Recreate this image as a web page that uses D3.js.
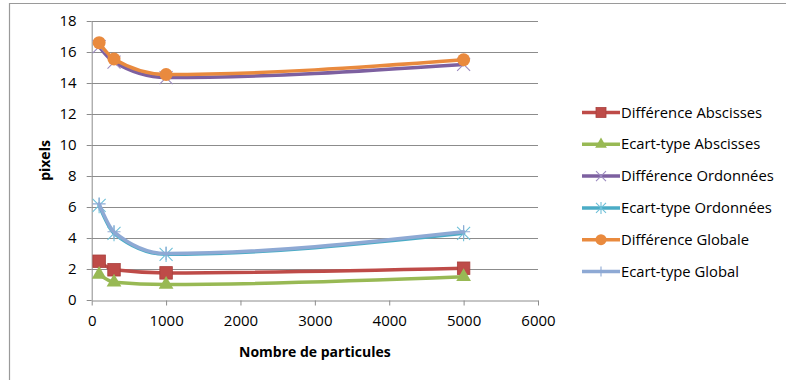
<!DOCTYPE html>
<html>
<head>
<meta charset="utf-8">
<script src="https://cdn.jsdelivr.net/npm/d3@7"></script>
<style>
  html, body { margin: 0; padding: 0; background: #fff; }
  svg { display: block; font-family: "Open Sans", "Noto Sans", sans-serif; }
</style>
</head>
<body>
<svg id="chart" width="786" height="380"></svg>
<script>
// Number of particles (x axis)
const particles = [100, 300, 1000, 5000];

// Series values (pixels)
const diffAbscisses = [2.5, 1.95, 1.75, 2.05];
const ecartAbscisses = [1.65, 1.15, 1.0, 1.5];
const diffOrdonnees = [16.35, 15.35, 14.35, 15.2];
const ecartOrdonnees = [6.1, 4.3, 2.95, 4.3];
const diffGlobale = [16.6, 15.55, 14.55, 15.5];
const ecartGlobal = [6.2, 4.4, 3.0, 4.4];

const seriesNames = [
  "Différence Abscisses",
  "Ecart-type Abscisses",
  "Différence Ordonnées",
  "Ecart-type Ordonnées",
  "Différence Globale",
  "Ecart-type Global"
];

const xTicks = [0, 1000, 2000, 3000, 4000, 5000, 6000];
const yTicks = [0, 2, 4, 6, 8, 10, 12, 14, 16, 18];

const xTitle = "Nombre de particules";
const yTitle = "pixels";

const series = [
  { name: seriesNames[0], values: diffAbscisses, color: "#BE4B48", mark: "square", markColor: "#BE4B48" },
  { name: seriesNames[1], values: ecartAbscisses, color: "#98B954", mark: "triangle", markColor: "#98B954" },
  { name: seriesNames[2], values: diffOrdonnees, color: "#7D60A0", mark: "x", markColor: "#9C8BC0" },
  { name: seriesNames[3], values: ecartOrdonnees, color: "#4BACC6", mark: "star", markColor: "#6FC0D8" },
  { name: seriesNames[4], values: diffGlobale, color: "#E98A3E", mark: "circle", markColor: "#E98A3E" },
  { name: seriesNames[5], values: ecartGlobal, color: "#8EA9D4", mark: "plus", markColor: "#8EA9D4" }
];

const svg = d3.select("#chart");

// chart frame
svg.append("path")
  .attr("d", "M9.5,380 V3.5 H786")
  .attr("fill", "none")
  .attr("stroke", "#9a9a9a")
  .attr("stroke-width", 1.2);

const x = d3.scaleLinear().domain([0, 6000]).range([91.7, 538]);
const y = d3.scaleLinear().domain([0, 18]).range([300, 21]);

// horizontal gridlines
svg.append("g")
  .selectAll("line")
  .data(yTicks.filter(d => d > 0))
  .join("line")
  .attr("x1", x(0)).attr("x2", x(6000))
  .attr("y1", d => Math.round(y(d)) + 0.5).attr("y2", d => Math.round(y(d)) + 0.5)
  .attr("stroke", "#8c8c8c")
  .attr("stroke-width", 1);

// axes
const yAxis = svg.append("g")
  .attr("transform", `translate(${x(0)},0)`)
  .call(d3.axisLeft(y).tickValues(yTicks).tickSize(5).tickPadding(10).tickSizeOuter(0));
const xAxis = svg.append("g")
  .attr("transform", `translate(0,${Math.round(y(0)) + 0.5})`)
  .call(d3.axisBottom(x).tickValues(xTicks).tickSize(5).tickPadding(10).tickSizeOuter(0).tickFormat(d3.format("d")));

[yAxis, xAxis].forEach(g => {
  g.selectAll(".domain, line").attr("stroke", "#8c8c8c");
  g.selectAll("text")
    .attr("fill", "#000")
    .style("font-size", "15px")
    .style("font-family", "'Open Sans', sans-serif");
});

// axis titles
svg.append("text")
  .attr("x", (x(0) + x(6000)) / 2)
  .attr("y", 357)
  .attr("text-anchor", "middle")
  .style("font-size", "14px")
  .style("font-weight", "bold")
  .text(xTitle);

svg.append("text")
  .attr("transform", `translate(50,${(y(0) + y(18)) / 2}) rotate(-90)`)
  .attr("text-anchor", "middle")
  .style("font-size", "14px")
  .style("font-weight", "bold")
  .text(yTitle);

// marker drawing
function drawMarker(g, kind, color, s) {
  const h = s / 2;
  if (kind === "square") {
    g.append("rect").attr("x", -h).attr("y", -h).attr("width", s).attr("height", s)
      .attr("fill", color).attr("stroke", "#A8403D").attr("stroke-width", 0.8);
  } else if (kind === "triangle") {
    g.append("path").attr("d", d3.symbol(d3.symbolTriangle, s * s * 0.6)())
      .attr("fill", color);
  } else if (kind === "circle") {
    g.append("circle").attr("r", h).attr("fill", color);
  } else if (kind === "x") {
    g.append("path").attr("d", `M${-h},${-h}L${h},${h}M${-h},${h}L${h},${-h}`)
      .attr("stroke", color).attr("stroke-width", 1.1);
  } else if (kind === "star") {
    g.append("path").attr("d", `M${-h},${-h}L${h},${h}M${-h},${h}L${h},${-h}M0,${-h * 1.2}L0,${h * 1.2}`)
      .attr("stroke", color).attr("stroke-width", 1.1);
  } else if (kind === "plus") {
    g.append("path").attr("d", `M${-h},0L${h},0M0,${-h}L0,${h}`)
      .attr("stroke", color).attr("stroke-width", 1.1);
  }
}

const line = d3.line()
  .x((d, i) => x(particles[i]))
  .y(d => y(d))
  .curve(d3.curveMonotoneX);

const plot = svg.append("g");
series.forEach(s => {
  const g = plot.append("g");
  g.append("path")
    .attr("d", line(s.values))
    .attr("fill", "none")
    .attr("stroke", s.color)
    .attr("stroke-width", 3.5)
    .attr("stroke-linejoin", "round")
    .attr("stroke-linecap", "round");
  s.values.forEach((v, i) => {
    const m = g.append("g").attr("transform", `translate(${x(particles[i])},${y(v)})`);
    drawMarker(m, s.mark, s.markColor, s.mark === "circle" ? 13 : (s.mark === "square" || s.mark === "triangle") ? 12.5 : 13);
  });
});

// legend
const legend = svg.append("g");
series.forEach((s, i) => {
  const cy = 112.5 + i * 31.8;
  const g = legend.append("g").attr("transform", `translate(0,${cy})`);
  g.append("line")
    .attr("x1", 582).attr("x2", 620)
    .attr("y1", 0).attr("y2", 0)
    .attr("stroke", s.color)
    .attr("stroke-width", 3.5);
  const m = g.append("g").attr("transform", "translate(601,0)");
  drawMarker(m, s.mark, s.markColor, s.mark === "circle" ? 11 : 10);
  g.append("text")
    .attr("x", 621)
    .attr("y", 0)
    .attr("dy", "0.35em")
    .style("font-size", "14.8px")
    .text(s.name);
});
</script>
</body>
</html>
